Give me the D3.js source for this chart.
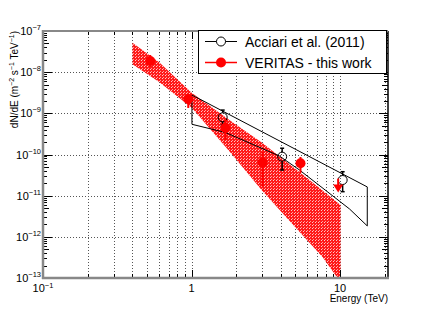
<!DOCTYPE html>
<html><head><meta charset="utf-8">
<script src="https://cdn.jsdelivr.net/npm/d3@7"></script>
<style>body{margin:0;background:#fff}svg{display:block;font-family:"Liberation Sans",Arial,sans-serif}</style>
</head><body>
<script>
// VERITAS - this work
const veritasE   = [0.527, 0.95, 1.69, 3.01, 5.41];
const veritasF   = [1.87e-8, 2.23e-9, 4.48e-10, 6.45e-11, 6.1e-11];
const veritasLo  = [1.34e-8, 1.35e-9, 2.25e-10, 1.67e-11, 3.56e-11];
const veritasHi  = [2.61e-8, 2.79e-9, 6.89e-10, 1.15e-10, 8.7e-11];
const veritasUlE = [9.7];
const veritasUlF = [2.6e-11];
// Acciari et al. (2011)
const acciariE  = [1.62, 4.07, 10.4];
const acciariF  = [8.02e-10, 8.85e-11, 2.4e-11];
const acciariLo = [5.2e-10, 4.2e-11, 1.25e-11];
const acciariHi = [1.2e-9, 1.42e-10, 3.82e-11];
// Acciari butterfly
const acciariBandUpE = [1.006, 15.23];
const acciariBandUpF = [2.79e-9, 1.63e-11];
const acciariBandLoE = [1.006, 1.687, 2.449, 3.903, 5.32, 11.57, 15.23];
const acciariBandLoF = [5.42e-10, 3.43e-10, 1.91e-10, 9.2e-11, 4.21e-11, 4.75e-12, 1.84e-12];
// VERITAS band
const veritasBandUpE = [0.40, 0.605, 1.006, 1.796, 3.0, 5.32, 7.26, 10.06];
const veritasBandUpF = [5.2e-8, 1.75e-8, 3.12e-9, 6.89e-10, 1.91e-10, 3.76e-11, 1.54e-11, 5.94e-12];
const veritasBandLoE = [0.40, 0.605, 1.006, 1.796, 3.0, 5.08, 7.61, 9.6, 10.06];
const veritasBandLoF = [1.55e-8, 5.8e-9, 1.35e-9, 1.2e-10, 1.3e-11, 1.6e-12, 3.24e-13, 1e-13, 1e-13];
// axes
const xTickVals = [0.1, 1, 10];
const xTickLabels = [["10","\u22121"], ["1",""], ["10",""]];
const yTickVals = [1e-13,1e-12,1e-11,1e-10,1e-9,1e-8,1e-7];
const yTickExps = ["\u221213","\u221212","\u221211","\u221210","\u22129","\u22128","\u22127"];
const legendLabels = ["Acciari et al. (2011)", "VERITAS - this work"];

const W=432,H=310, L=43,R=388,T=31,B=278;
const svg=d3.select("body").append("svg").attr("width",W).attr("height",H);
const x=d3.scaleLog().domain([0.1,21]).range([L,R]);
const y=d3.scaleLog().domain([1e-13,1e-7]).range([B,T]);

const defs=svg.append("defs");
const pat=defs.append("pattern").attr("id","hatch").attr("patternUnits","userSpaceOnUse").attr("width",3).attr("height",3);
pat.append("rect").attr("width",3).attr("height",3).attr("fill","#ff1a1a");
pat.append("rect").attr("x",0).attr("y",0).attr("width",1).attr("height",1).attr("fill","#ffc8c8");
pat.append("rect").attr("x",1).attr("y",2).attr("width",1).attr("height",1).attr("fill","#ff9a9a");
defs.append("clipPath").attr("id","clip").append("rect").attr("x",L).attr("y",T).attr("width",R-L).attr("height",B-T);

// grid
const gx=[];
for(let d=0.1; d<20; d*=10) for(let k=1;k<10;k++){const v=d*k; if(v>0.1*1.0001 && v<=21) gx.push(v);}
gx.push(20);
const grid=svg.append("g").attr("stroke","#555").attr("stroke-width",1).attr("stroke-dasharray","1,2");
grid.selectAll("line.gx").data(gx).join("line").attr("x1",d=>Math.round(x(d))+0.5).attr("x2",d=>Math.round(x(d))+0.5).attr("y1",T).attr("y2",B);
grid.selectAll("line.gy").data(yTickVals.slice(1,-1)).join("line").attr("y1",d=>Math.round(y(d))+0.5).attr("y2",d=>Math.round(y(d))+0.5).attr("x1",L).attr("x2",R);

const plot=svg.append("g").attr("clip-path","url(#clip)");
// VERITAS band
const bandPts=veritasBandUpE.map((e,i)=>[x(e),y(veritasBandUpF[i])])
  .concat(veritasBandLoE.map((e,i)=>[x(e),y(veritasBandLoF[i])]).reverse());
plot.append("path").attr("d",d3.line()(bandPts)+"Z").attr("fill","url(#hatch)").attr("stroke","none");

// Acciari butterfly
const butt=acciariBandUpE.map((e,i)=>[x(e),y(acciariBandUpF[i])])
  .concat(acciariBandLoE.map((e,i)=>[x(e),y(acciariBandLoF[i])]).reverse());
plot.append("path").attr("d",d3.line()(butt)+"Z").attr("fill","none").attr("stroke","#000").attr("stroke-width",1);

// Acciari points
const ac=plot.append("g");
acciariE.forEach((e,i)=>{
  const cx=x(e), cy=y(acciariF[i]);
  ac.append("line").attr("x1",cx).attr("x2",cx).attr("y1",y(acciariHi[i])).attr("y2",cy-4.5).attr("stroke","#000").attr("stroke-width",1.5);
  ac.append("line").attr("x1",cx).attr("x2",cx).attr("y1",cy+4.5).attr("y2",y(acciariLo[i])).attr("stroke","#000").attr("stroke-width",1.5);
  [acciariHi[i],acciariLo[i]].forEach(v=>ac.append("line").attr("x1",cx-2).attr("x2",cx+2).attr("y1",y(v)).attr("y2",y(v)).attr("stroke","#000").attr("stroke-width",1.5));
  ac.append("circle").attr("cx",cx).attr("cy",cy).attr("r",4.5).attr("fill","none").attr("stroke","#000").attr("stroke-width",1);
});

// VERITAS points
const vg=plot.append("g");
veritasE.forEach((e,i)=>{
  const cx=x(e), cy=y(veritasF[i]);
  vg.append("line").attr("x1",cx).attr("x2",cx).attr("y1",y(veritasHi[i])).attr("y2",y(veritasLo[i])).attr("stroke","#f00").attr("stroke-width",2);
  vg.append("circle").attr("cx",cx).attr("cy",cy).attr("r",5).attr("fill","#f00");
});
veritasUlE.forEach((e,i)=>{
  const cx=x(e), cy=y(veritasUlF[i]);
  vg.append("line").attr("x1",cx).attr("x2",cx).attr("y1",cy).attr("y2",cy+8).attr("stroke","#f00").attr("stroke-width",2);
  vg.append("path").attr("d",`M${cx-5},${cy+6}L${cx+5},${cy+6}L${cx},${cy+14}Z`).attr("fill","#f00");
});

// axes ticks
const ax=svg.append("g").attr("stroke","#000").attr("stroke-width",1);
const xMinor=[]; for(let d=0.1; d<20; d*=10) for(let k=1;k<10;k++){const v=d*k; if(v>=0.1 && v<=21) xMinor.push(v);} xMinor.push(20);
xMinor.forEach(v=>{
  const major=xTickVals.some(t=>Math.abs(t-v)/t<1e-6);
  const len=major?8:4; const px=Math.round(x(v))+0.5;
  ax.append("line").attr("x1",px).attr("x2",px).attr("y1",B).attr("y2",B-len);
  ax.append("line").attr("x1",px).attr("x2",px).attr("y1",T).attr("y2",T+len);
});
for(let p=-13;p<-7;p++){
  for(let k=1;k<10;k++){
    const v=k*Math.pow(10,p); const len=k===1?9:(k===5?6:4); const py=Math.round(y(v))+0.5;
    ax.append("line").attr("x1",L).attr("x2",L+len).attr("y1",py).attr("y2",py);
    ax.append("line").attr("x1",R).attr("x2",R-len).attr("y1",py).attr("y2",py);
  }
}
// frame
svg.append("line").attr("x1",R).attr("x2",R).attr("y1",T).attr("y2",B).attr("stroke","#000").attr("stroke-width",1.5);
svg.append("line").attr("x1",L).attr("x2",R).attr("y1",T).attr("y2",T).attr("stroke","#888").attr("stroke-width",2);
svg.append("line").attr("x1",L).attr("x2",L).attr("y1",T-1).attr("y2",B+1).attr("stroke","#888").attr("stroke-width",2.5);
svg.append("line").attr("x1",L-1).attr("x2",R+1).attr("y1",B).attr("y2",B).attr("stroke","#888").attr("stroke-width",2.5);

// tick labels
const tl=svg.append("g").attr("font-size",11).attr("fill","#000");
xTickVals.forEach((v,i)=>{
  const t=tl.append("text").attr("x",x(v)).attr("y",B+14).attr("text-anchor","middle");
  t.append("tspan").text(xTickLabels[i][0]);
  if(xTickLabels[i][1]) t.append("tspan").attr("dy",-4).attr("font-size",7.5).text(xTickLabels[i][1]);
});
yTickVals.forEach((v,i)=>{
  const t=tl.append("text").attr("x",L-2).attr("y",y(v)+4).attr("text-anchor","end");
  t.append("tspan").text("10");
  t.append("tspan").attr("dy",-5).attr("font-size",7.5).text(yTickExps[i]);
});
svg.append("text").attr("x",R).attr("y",B+24).attr("text-anchor","end").attr("font-size",10).text("Energy (TeV)");
const yl=svg.append("text").attr("transform",`translate(18,${T}) rotate(-90)`).attr("text-anchor","end").attr("font-size",10);
yl.append("tspan").text("dN/dE (m");
yl.append("tspan").attr("dy",-4).attr("font-size",7).text("\u22122");
yl.append("tspan").attr("dy",4).text(" s");
yl.append("tspan").attr("dy",-4).attr("font-size",7).text("\u22121");
yl.append("tspan").attr("dy",4).text(" TeV");
yl.append("tspan").attr("dy",-4).attr("font-size",7).text("\u22121");
yl.append("tspan").attr("dy",4).text(")");

// legend
const lg=svg.append("g");
lg.append("rect").attr("x",198.5).attr("y",30.5).attr("width",188).attr("height",43).attr("fill","#fff").attr("stroke","#000").attr("stroke-width",1);
const rows=[41.5,62.5];
lg.append("line").attr("x1",205).attr("x2",237).attr("y1",rows[0]).attr("y2",rows[0]).attr("stroke","#000").attr("stroke-width",1);
lg.append("circle").attr("cx",221).attr("cy",rows[0]).attr("r",4.5).attr("fill","#fff").attr("stroke","#000");
lg.append("line").attr("x1",205).attr("x2",237).attr("y1",rows[1]).attr("y2",rows[1]).attr("stroke","#f00").attr("stroke-width",1.5);
lg.append("circle").attr("cx",221).attr("cy",rows[1]).attr("r",5).attr("fill","#f00");
legendLabels.forEach((s,i)=>lg.append("text").attr("x",245).attr("y",rows[i]+5).attr("font-size",14).text(s));
</script>
</body></html>
